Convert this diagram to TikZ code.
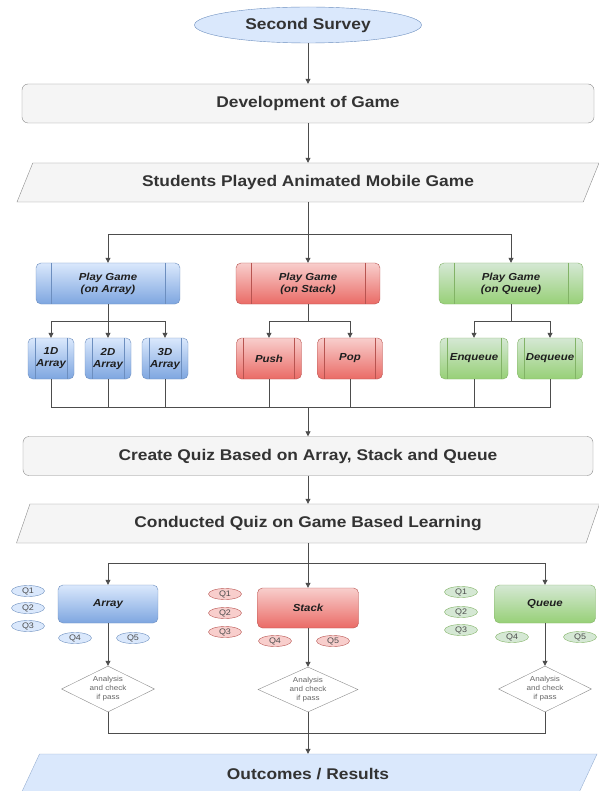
\documentclass[tikz,border=0pt]{standalone}
\usepackage{tikz}
\usepackage{xcolor}
\usepackage{fontspec}
\setmainfont{Liberation Sans}[FakeStretch=1.12]
\usetikzlibrary{shapes.geometric,arrows.meta}
\definecolor{blueFill}{HTML}{DAE8FC}
\definecolor{blueDark}{HTML}{7EA6E0}
\definecolor{blueLine}{HTML}{6C8EBF}
\definecolor{redFill}{HTML}{F8CECC}
\definecolor{redDark}{HTML}{EA6B66}
\definecolor{redLine}{HTML}{B85450}
\definecolor{greenFill}{HTML}{D5E8D4}
\definecolor{greenDark}{HTML}{97D077}
\definecolor{greenLine}{HTML}{82B366}
\definecolor{greyFill}{HTML}{F5F5F5}
\definecolor{greyLine}{HTML}{8C8C8C}
\definecolor{lineGrey}{HTML}{4D4D4D}
\definecolor{textDark}{HTML}{333333}
\definecolor{boxText}{HTML}{1F1F1F}
\definecolor{qText}{HTML}{4D4D4D}
\definecolor{checkText}{HTML}{666666}
\tikzset{bars/.style 2 args={path picture={
  \draw[#2,line width=0.6pt] ([xshift=#1]path picture bounding box.north west) -- ([xshift=#1]path picture bounding box.south west)
    ([xshift=-#1]path picture bounding box.north east) -- ([xshift=-#1]path picture bounding box.south east);}}}
\begin{document}
\begin{tikzpicture}[x=1pt,y=1pt]
\tikzstyle{every node}+=[inner sep=0pt]
\tikzstyle{line}=[draw=lineGrey,line width=0.8pt]
\tikzstyle{arrow}=[line,-{Triangle[length=5pt,width=5pt]}]
\tikzstyle{bigtext}=[text=textDark,font=\bfseries\fontsize{15.5}{18}\selectfont]
\tikzstyle{greybox}=[bigtext,draw=greyLine,fill=greyFill,rounded corners=6pt,minimum height=39pt]
\tikzstyle{slant}=[bigtext,trapezium,trapezium left angle=68,trapezium right angle=112,trapezium stretches body=true,draw=greyLine,fill=greyFill,text height=11pt,text depth=3.5pt,inner ysep=12.25pt]
\tikzstyle{boxtext}=[text=boxText,align=center,font=\bfseries\itshape\fontsize{10.2}{12}\selectfont]
\tikzstyle{bluebox}=[boxtext,draw=blueLine,top color=blueFill,bottom color=blueDark,rounded corners=5pt]
\tikzstyle{redbox}=[boxtext,draw=redLine,top color=redFill,bottom color=redDark,rounded corners=5pt]
\tikzstyle{greenbox}=[boxtext,draw=greenLine,top color=greenFill,bottom color=greenDark,rounded corners=5pt]
\tikzstyle{playbox}=[minimum width=144pt,minimum height=41pt]
\tikzstyle{subbox}=[minimum height=41pt]
\tikzstyle{quizbox}=[minimum width=101pt,minimum height=38pt]
\tikzstyle{qtag}=[ellipse,minimum width=33pt,minimum height=11pt,text=qText,font=\fontsize{8}{9}\selectfont]
\tikzstyle{qblue}=[qtag,draw=blueLine,fill=blueFill]
\tikzstyle{qred}=[qtag,draw=redLine,fill=redFill]
\tikzstyle{qgreen}=[qtag,draw=greenLine,fill=greenFill]
\tikzstyle{check}=[diamond,aspect=2,draw=greyLine,fill=white,minimum width=93pt,minimum height=46pt,text=checkText,align=center,font=\fontsize{7.2}{9}\selectfont]
\tikzstyle{result}=[bigtext,trapezium,trapezium left angle=65,trapezium right angle=115,trapezium stretches body=true,draw=blueLine!70,fill=blueFill,minimum width=578pt,text height=11pt,text depth=3.5pt,inner ysep=14.75pt]
\path[fill=white,use as bounding box] (0,0) rectangle (598,-791);
\node[ellipse,bigtext,draw=blueLine,fill=blueFill,minimum width=227pt,minimum height=36pt] (survey) at (308,-25) {Second Survey};
\node[greybox,minimum width=572pt] (dev) at (308,-103.5) {Development of Game};
\node[slant,minimum width=582pt] (played) at (308,-182.5) {Students Played Animated Mobile Game};
\node[bluebox,playbox,bars={15pt}{blueLine}] (pa) at (108,-283.5) {Play Game\\(on Array)};
\node[redbox,playbox,bars={15pt}{redLine}] (ps) at (308,-283.5) {Play Game\\(on Stack)};
\node[greenbox,playbox,bars={15pt}{greenLine}] (pq) at (511,-283.5) {Play Game\\(on Queue)};
\node[bluebox,subbox,minimum width=46pt,bars={7pt}{blueLine}] (a1) at (51,-358.5) {1D\\Array};
\node[bluebox,subbox,minimum width=46pt,bars={7pt}{blueLine}] (a2) at (108,-358.5) {2D\\Array};
\node[bluebox,subbox,minimum width=46pt,bars={7pt}{blueLine}] (a3) at (165,-358.5) {3D\\Array};
\node[redbox,subbox,minimum width=65pt,bars={7pt}{redLine}] (push) at (269,-358.5) {Push};
\node[redbox,subbox,minimum width=65pt,bars={7pt}{redLine}] (pop) at (350,-358.5) {Pop};
\node[greenbox,subbox,minimum width=68pt,bars={7pt}{greenLine}] (enq) at (474,-358.5) {Enqueue};
\node[greenbox,subbox,minimum width=65pt,bars={7pt}{greenLine}] (deq) at (550,-358.5) {Dequeue};
\node[greybox,minimum width=570pt] (quiz) at (308,-456) {Create Quiz Based on Array, Stack and Queue};
\node[slant,trapezium left angle=71,trapezium right angle=109,minimum width=583pt] (conducted) at (308,-523.5) {Conducted Quiz on Game Based Learning};
\node[bluebox,quizbox,minimum width=100pt] (qa) at (108,-604) {Array};
\node[redbox,quizbox,minimum height=40pt] (qs) at (308,-608) {Stack};
\node[greenbox,quizbox] (qq) at (545,-604) {Queue};
\node[qblue] (qa1) at (28,-591) {Q1};
\node[qblue] (qa2) at (28,-608) {Q2};
\node[qblue] (qa3) at (28,-626) {Q3};
\node[qblue] (qa4) at (75,-638) {Q4};
\node[qblue] (qa5) at (133,-638) {Q5};
\node[qred] (qs1) at (225,-594) {Q1};
\node[qred] (qs2) at (225,-613) {Q2};
\node[qred] (qs3) at (225,-632) {Q3};
\node[qred] (qs4) at (275,-641) {Q4};
\node[qred] (qs5) at (333,-641) {Q5};
\node[qgreen] (qq1) at (461,-592) {Q1};
\node[qgreen] (qq2) at (461,-612) {Q2};
\node[qgreen] (qq3) at (461,-630) {Q3};
\node[qgreen] (qq4) at (512,-637) {Q4};
\node[qgreen] (qq5) at (580,-637) {Q5};
\node[check] (da) at (108,-689) {Analysis\\and check\\if pass};
\node[check,minimum width=100pt,minimum height=45pt] (ds) at (308,-689.5) {Analysis\\and check\\if pass};
\node[check] (dq) at (545,-689) {Analysis\\and check\\if pass};
\node[result] (outc) at (308,-776) {Outcomes / Results};
\coordinate (splitA) at (308,-234);
\coordinate (splitB) at (108,-321);
\coordinate (splitS) at (308,-321);
\coordinate (splitQ) at (511,-321);
\coordinate (joinA) at (308,-407);
\coordinate (splitC) at (308,-563);
\coordinate (joinB) at (308,-733);
\draw[arrow] (survey) -- (dev);
\draw[arrow] (dev) -- (played.north -| dev);
\draw[line] (played.south -| splitA) -- (splitA);
\draw[arrow] (splitA) -| (pa);
\draw[arrow] (splitA) -- (ps);
\draw[arrow] (splitA) -| (pq);
\draw[line] (pa) -- (splitB);
\draw[arrow] (splitB) -| (a1);
\draw[arrow] (splitB) -- (a2);
\draw[arrow] (splitB) -| (a3);
\draw[line] (ps) -- (splitS);
\draw[arrow] (splitS) -| (push);
\draw[arrow] (splitS) -| (pop);
\draw[line] (pq) -- (splitQ);
\draw[arrow] (splitQ) -| (enq);
\draw[arrow] (splitQ) -| (deq);
\draw[line] (a1) |- (joinA);
\draw[line] (a2) |- (joinA);
\draw[line] (a3) |- (joinA);
\draw[line] (push) |- (joinA);
\draw[line] (pop) |- (joinA);
\draw[line] (enq) |- (joinA);
\draw[line] (deq) |- (joinA);
\draw[arrow] (joinA) -- (quiz);
\draw[arrow] (quiz) -- (conducted.north -| quiz);
\draw[line] (conducted.south -| splitC) -- (splitC);
\draw[arrow] (splitC) -| (qa);
\draw[arrow] (splitC) -- (qs);
\draw[arrow] (splitC) -| (qq);
\draw[arrow] (qa) -- (da);
\draw[arrow] (qs) -- (ds);
\draw[arrow] (qq) -- (dq);
\draw[line] (da) |- (joinB);
\draw[line] (dq) |- (joinB);
\draw[arrow] (ds) -- (outc.north -| ds);
\end{tikzpicture}
\end{document}
